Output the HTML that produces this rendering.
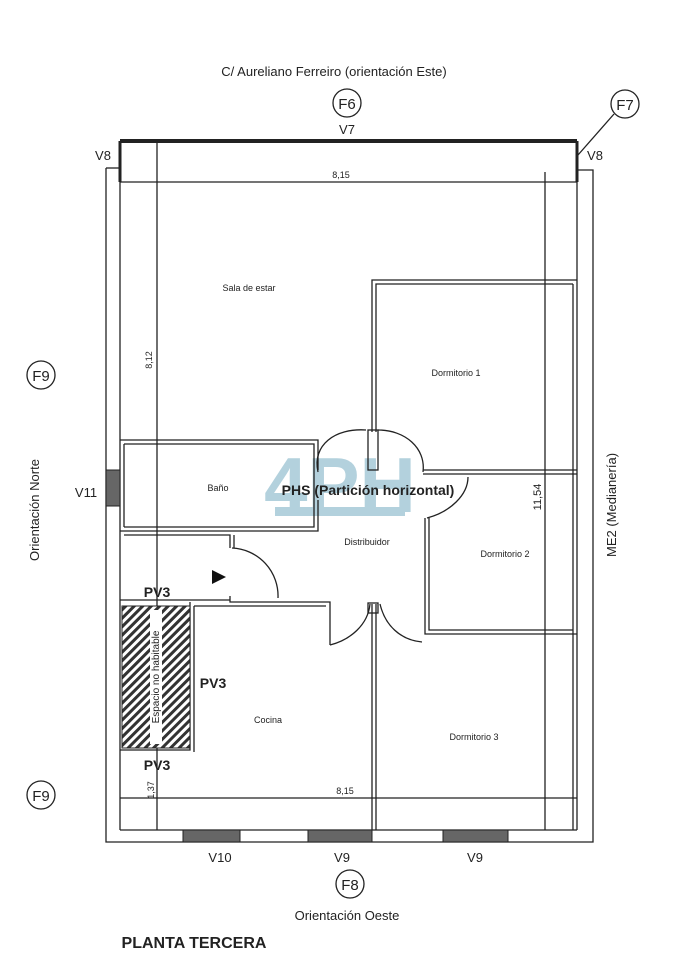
<!DOCTYPE html>
<html><head><meta charset="utf-8"><style>
html,body{margin:0;padding:0;background:#fff;}
svg{display:block;}
text{font-family:"Liberation Sans",sans-serif;fill:#222;}
</style></head><body>
<svg width="679" height="960" viewBox="0 0 679 960" xmlns="http://www.w3.org/2000/svg">
<defs>
<pattern id="h" width="6" height="6" patternUnits="userSpaceOnUse" patternTransform="rotate(45)">
<rect width="6" height="6" fill="#fff"/><rect width="3" height="6" fill="#333"/></pattern>
</defs>
<text x="340" y="512" font-size="78" font-weight="bold" style="fill:#b3d1dd" text-anchor="middle">4PH</text>
<rect x="275" y="507" width="130" height="9" fill="#b3d1dd"/>
<g stroke="#222" fill="none" stroke-width="1.3">
<polyline points="106,168 120,168"/>
<polyline points="106,168 106,842 593,842 593,170 577,170"/>
<line x1="120" y1="141" x2="577" y2="141" stroke-width="4"/>
<line x1="120" y1="141" x2="120" y2="182" stroke-width="3"/>
<line x1="577" y1="141" x2="577" y2="182" stroke-width="3"/>
<line x1="120" y1="141" x2="120" y2="830"/>
<line x1="577" y1="141" x2="577" y2="830"/>
<line x1="120" y1="830" x2="577" y2="830"/>
<line x1="157" y1="141" x2="157" y2="830"/>
<line x1="120" y1="182" x2="577" y2="182"/>
<line x1="545" y1="172" x2="545" y2="830"/>
<line x1="120" y1="798" x2="577" y2="798"/>
<polyline points="372,432 372,280 577,280"/>
<polyline points="376,432 376,284 573,284"/>
<line x1="573" y1="284" x2="573" y2="830"/>
<rect x="368" y="430" width="10" height="40"/>
<polyline points="423,470 577,470"/>
<polyline points="423,474 577,474"/>
<polyline points="120,440 318,440 318,470"/>
<polyline points="124,444 314,444 314,527 124,527"/>
<polyline points="120,531 318,531 318,500"/>
<polyline points="124,444 124,527"/>
<polyline points="124,535 230,535 230,548"/>
<polyline points="234,535 234,548"/>
<polyline points="230,600 120,600"/>
<polyline points="230,596 230,602 330,602 330,645"/>
<polyline points="194,606 326,606"/>
<path d="M232,548 A48,48 0 0 1 278,598"/>
<polyline points="425,518 425,634 577,634"/>
<polyline points="429,518 429,630 573,630"/>
<polyline points="190,602 190,750 120,750"/>
<polyline points="194,606 194,752"/>
<line x1="372" y1="604" x2="372" y2="830"/>
<line x1="376" y1="604" x2="376" y2="830"/>
<rect x="368" y="603" width="10" height="10"/>
<path d="M318,472 C312,445 335,428 366,430"/>
<path d="M378,430 C405,430 426,448 423,472"/>
<path d="M427,518 C450,512 468,495 468,477"/>
<path d="M330,645 C350,640 368,625 370,604"/>
<path d="M380,604 C385,625 400,640 422,642"/>
</g>
<rect x="122" y="606" width="68" height="142" fill="url(#h)" stroke="#222"/>
<rect x="150" y="610" width="12" height="134" fill="#fff"/>
<text transform="translate(159,677) rotate(-90)" font-size="10" text-anchor="middle">Espacio no habitable</text>
<g fill="#666" stroke="#222">
<rect x="183" y="830" width="57" height="12"/>
<rect x="308" y="830" width="64" height="12"/>
<rect x="443" y="830" width="65" height="12"/>
<rect x="106" y="470" width="14" height="36"/>
</g>
<path d="M212,570 L226,577 L212,584 Z" fill="#111"/>
<g fill="none" stroke="#222" stroke-width="1.3">
<circle cx="347" cy="103" r="14"/><circle cx="625" cy="104" r="14"/>
<circle cx="41" cy="375" r="14"/><circle cx="41" cy="795" r="14"/>
<circle cx="350" cy="884" r="14"/>
<line x1="614" y1="114" x2="578" y2="155"/>
</g>
<g font-size="15" text-anchor="middle">
<text x="347" y="109">F6</text><text x="625" y="110">F7</text>
<text x="41" y="381">F9</text><text x="41" y="801">F9</text>
<text x="350" y="890">F8</text>
</g>
<g font-size="13" text-anchor="middle">
<text x="334" y="76">C/ Aureliano Ferreiro (orientación Este)</text>
<text x="347" y="134">V7</text>
<text x="103" y="160">V8</text><text x="595" y="160">V8</text>
<text x="86" y="497">V11</text>
<text x="220" y="862">V10</text><text x="342" y="862">V9</text><text x="475" y="862">V9</text>
<text x="347" y="920">Orientación Oeste</text>
<text transform="translate(39,510) rotate(-90)">Orientación Norte</text>
<text transform="translate(616,505) rotate(-90)">ME2 (Medianería)</text>
</g>
<g font-size="14" text-anchor="middle" font-weight="bold">
<text x="157" y="597">PV3</text><text x="213" y="688">PV3</text><text x="157" y="770">PV3</text>
<text x="368" y="495">PHS (Partición horizontal)</text>
</g>
<g font-size="9" text-anchor="middle">
<text x="249" y="291">Sala de estar</text>
<text x="456" y="376">Dormitorio 1</text>
<text x="218" y="491">Baño</text>
<text x="367" y="545">Distribuidor</text>
<text x="505" y="557">Dormitorio 2</text>
<text x="268" y="723">Cocina</text>
<text x="474" y="740">Dormitorio 3</text>
<text x="341" y="178">8,15</text>
<text x="345" y="794">8,15</text>
<text transform="translate(152,360) rotate(-90)">8,12</text>
<text transform="translate(154,790) rotate(-90)">1,37</text>
<text transform="translate(541,497) rotate(-90)" font-size="11">11,54</text>
</g>
<text x="194" y="948" font-size="16" font-weight="bold" text-anchor="middle">PLANTA TERCERA</text>
</svg>
</body></html>
